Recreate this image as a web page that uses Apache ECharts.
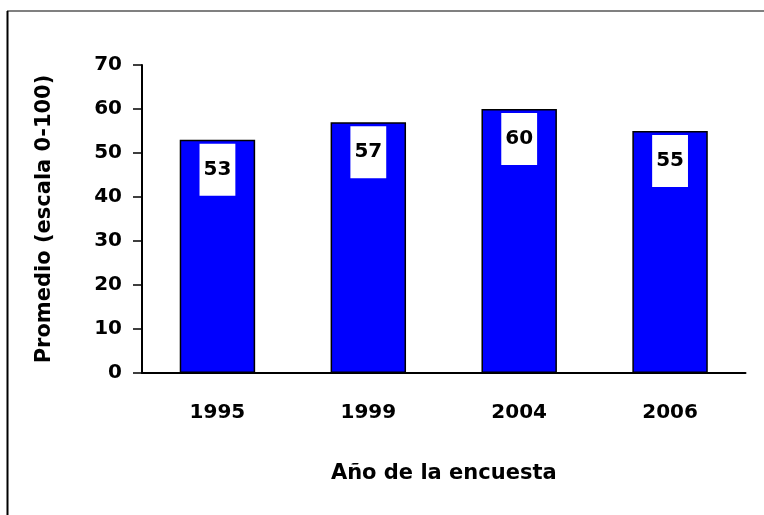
<!DOCTYPE html>
<html>
<head>
<meta charset="utf-8">
<script src="https://cdn.jsdelivr.net/npm/echarts@6/dist/echarts.min.js"></script>
<style>
  html, body { margin: 0; padding: 0; background: #fff; }
  #chart { width: 764px; height: 515px; }
</style>
</head>
<body>
<div id="chart"></div>
<script>
// Survey years and mean scores (0-100 scale)
const years = ["1995", "1999", "2004", "2006"];
const scores = [53, 57, 60, 55];

const FONT = "DejaVu Sans";

const chart = echarts.init(document.getElementById("chart"));

chart.setOption({
    animation: false,
    backgroundColor: "#fff",
    grid: { left: 142, right: 18.5, top: 65, bottom: 142 },
    // frame lines around the picture (top grey, left black)
    graphic: [
        { type: "line", shape: { x1: 7, y1: 11, x2: 764, y2: 11 }, style: { stroke: "#808080", lineWidth: 2 } },
        { type: "line", shape: { x1: 7.5, y1: 11, x2: 7.5, y2: 515 }, style: { stroke: "#000", lineWidth: 2 } }
    ],
    xAxis: {
        type: "category",
        data: years,
        name: "Año de la encuesta",
        nameLocation: "middle",
        nameGap: 90,
        nameTextStyle: { fontFamily: FONT, fontWeight: "bold", fontSize: 21, color: "#000" },
        axisLine: { lineStyle: { color: "#000", width: 2 } },
        axisTick: { length: 9, lineStyle: { color: "#000", width: 1.5 } },
        axisLabel: { margin: 30, fontFamily: FONT, fontWeight: "bold", fontSize: 20, color: "#000" }
    },
    yAxis: {
        type: "value",
        min: 0,
        max: 70,
        interval: 10,
        name: "Promedio (escala 0-100)",
        nameLocation: "middle",
        nameGap: 87,
        nameTextStyle: { fontFamily: FONT, fontWeight: "bold", fontSize: 21, color: "#000" },
        axisLine: { show: true, lineStyle: { color: "#000", width: 2 } },
        axisTick: { show: true, length: 9, lineStyle: { color: "#000", width: 1.5 } },
        axisLabel: { margin: 20, fontFamily: FONT, fontWeight: "bold", fontSize: 20, color: "#000" },
        splitLine: { show: false }
    },
    series: [{
        type: "bar",
        data: scores,
        barWidth: "50%",
        itemStyle: { color: "#0000FF", borderColor: "#000", borderWidth: 1.5 },
        label: {
            show: true,
            position: "insideTop",
            distance: 4,
            fontFamily: FONT,
            fontWeight: "bold",
            fontSize: 20,
            lineHeight: 20,
            color: "#000",
            backgroundColor: "#fff",
            padding: [16, 4]
        }
    }]
});
</script>
</body>
</html>
